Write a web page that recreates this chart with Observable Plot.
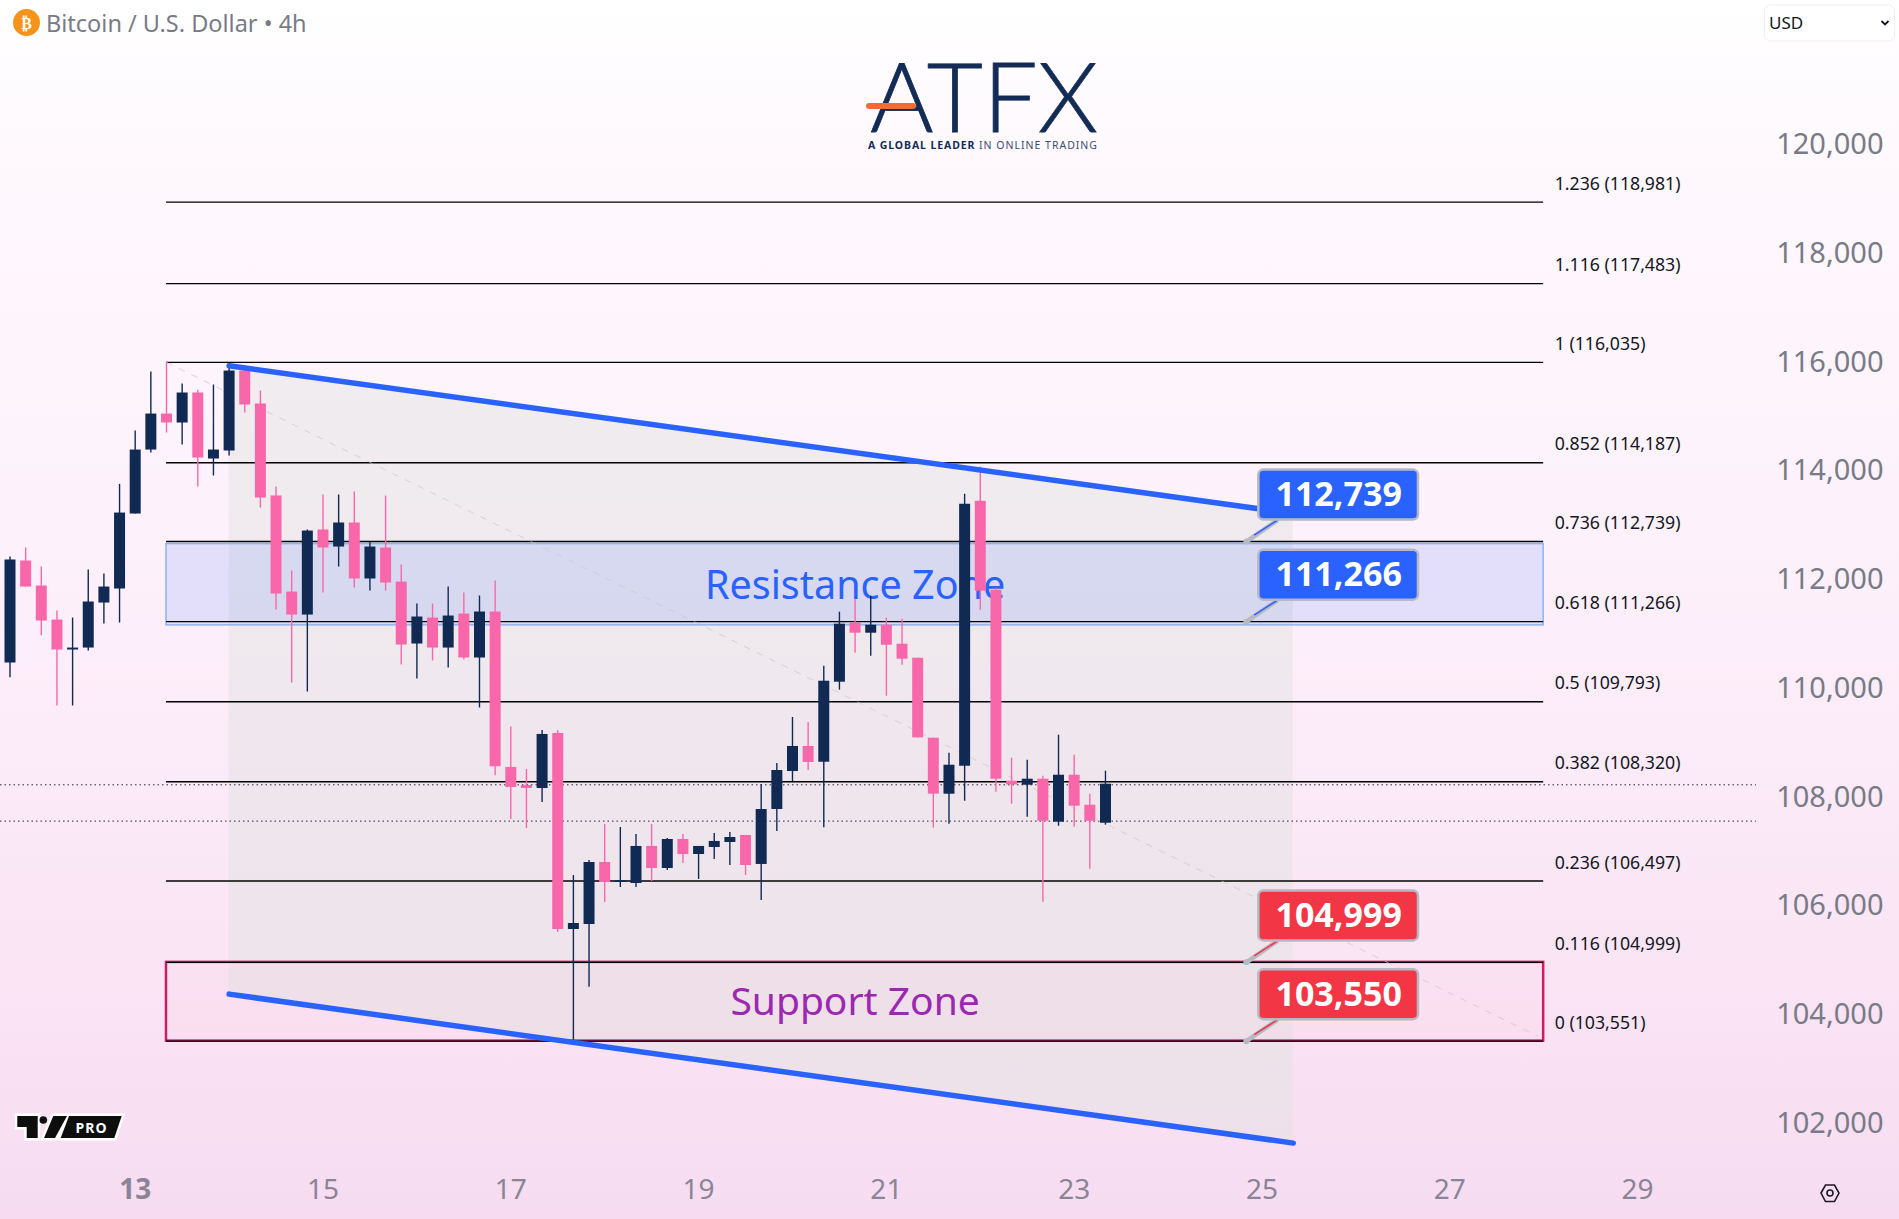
<!DOCTYPE html>
<html>
<head>
<meta charset="utf-8">
<script src="https://cdn.jsdelivr.net/npm/d3@7"></script>
<script src="https://cdn.jsdelivr.net/npm/@observablehq/plot@0.6"></script>
<style>
html,body{margin:0;padding:0;background:#fff;}
svg{display:block;}
</style>
</head>
<body>
<div id="chart"></div>
<script>
// 4h candles, one bar per index
const opens = [110505,112381,111921,111295,110744,110780,111608,111866,113245,114422,115084,114919,115471,114257,114404,115875,115268,113576,111810,111387,112951,112638,113080,112050,112620,111994,110854,111332,110780,111406,110597,111443,108584,108253,108197,109209,105604,105696,106836,106468,106450,107131,106726,107259,106983,107112,107204,107333,106800,107811,108510,108970,108680,110152,111237,111053,111200,110851,110593,109122,108092,108607,113481,111844,108331,108257,108368,107577,108441,107890,107558];
const closes = [112399,111902,111277,110744,110780,111627,111902,113263,114422,115084,114919,115471,114275,114422,115875,115250,113539,111774,111387,112932,112620,113080,112050,112638,111976,110836,111351,110780,111369,110597,111443,108596,108216,108197,109191,105604,105714,106836,106468,106499,107131,106726,107259,106983,107131,107223,107296,106781,107811,108528,108970,108676,110170,111219,111053,111200,110832,110575,109128,108092,108625,113426,111826,108368,108263,108368,107595,108441,107871,107595,108276];
const highs = [112454,112620,112270,111461,111332,112215,112142,113791,114772,115857,116035,115636,115520,115618,115967,115967,115507,113742,112197,112951,113594,113594,113650,112724,113576,112307,111590,111590,111902,111792,111737,112013,109326,108547,109264,109264,106597,106873,107535,107480,107351,107535,107278,107351,107131,107370,107388,107333,108271,108657,109503,109411,110446,111439,111678,111734,111329,111311,110593,109122,108846,113610,114112,111881,108754,108717,108423,109177,108809,108092,108515];
const lows = [110235,111902,111007,109714,109714,110725,111222,111240,113245,114367,114735,114514,113742,113944,114312,115103,113355,111479,110137,109971,111792,112270,111884,111829,111829,110468,110210,110541,110413,110560,109677,108430,107627,107462,107940,105549,103551,104543,106101,106376,106376,106487,106689,106818,106524,106892,106781,106597,106137,107407,108326,108528,107473,110005,110685,110630,109894,110464,109128,107466,107540,107963,111476,108129,107908,107669,106105,107503,107485,106712,107522];

// Fibonacci levels
const fibRatios = ["1.236","1.116","1","0.852","0.736","0.618","0.5","0.382","0.236","0.116","0"];
const fibPrices = [118981,117483,116035,114187,112739,111266,109793,108320,106497,104999,103551];

// Channel, zones, callouts
const channelBars = [14,82];
const channelUpper = [115973,113253];
const channelLower = [104415,101675];
const zoneBars = [10,98];
const resistanceZone = [111197,112692];
const supportZone = [103551,104999];
const calloutValues = [112739,111266,104999,103550];
const calloutColors = ["#2962ff","#2962ff","#f23645","#f23645"];
const lastPrices = [108265,107597];
const diagBars = [10,97.6];
const diagPrices = [116035,103643];

// Axes
const yTicks = [102000,104000,106000,108000,110000,112000,114000,116000,118000,120000];
const xTickBars = [20,32,44,56,68,80,92,104];
const xTickLabels = ["15","17","19","21","23","25","27","29"];
const xBoldBars = [8];
const xBoldLabels = ["13"];

const navy = "#102a54", pink = "#f967ab", blue = "#2962ff";
const sans = "'Noto Sans', sans-serif";

const bars = opens.map((o,i)=>({i,o,c:closes[i],h:highs[i],l:lows[i],col:closes[i]>=o?navy:pink}));
const fib = fibRatios.map((r,i)=>({r,p:fibPrices[i]}));
const channel = channelBars.map((b,i)=>({b,u:channelUpper[i],l:channelLower[i]}));
const callouts = calloutValues.map((v,i)=>({v,col:calloutColors[i]}));

function chrome(){
  const g = d3.create("svg:g").attr("text-anchor","start");
  // ATFX logo
  g.append("text").text("ATFX").attr("x",984).attr("y",94.5).attr("text-anchor","middle")
    .attr("dominant-baseline","central").attr("font-family","Lato, sans-serif").attr("font-size",97).attr("font-weight",300)
    .attr("fill","#132c56").attr("stroke","#132c56").attr("stroke-width",0.8);
  g.append("line").attr("x1",869).attr("x2",913).attr("y1",106).attr("y2",106)
    .attr("stroke","#f26b30").attr("stroke-width",6).attr("stroke-linecap","round");
  g.append("text").text("A GLOBAL LEADER").attr("x",868).attr("y",149).attr("font-family",sans)
    .attr("font-size",10.5).attr("font-weight",700).attr("letter-spacing",0.9).attr("fill","#132c56");
  g.append("text").text("IN ONLINE TRADING").attr("x",979).attr("y",149).attr("font-family",sans)
    .attr("font-size",10.5).attr("letter-spacing",1.0).attr("fill","#3d4f6f");
  // header
  g.append("circle").attr("cx",26.5).attr("cy",22.5).attr("r",13.5).attr("fill","#f7931a");
  g.append("text").text("₿").attr("x",26.5).attr("y",23).attr("text-anchor","middle")
    .attr("dominant-baseline","central").attr("font-family","DejaVu Sans").attr("font-weight",700)
    .attr("font-size",16).attr("fill","#fff");
  g.append("text").text("Bitcoin / U.S. Dollar • 4h").attr("x",46).attr("y",22.5)
    .attr("dominant-baseline","central").attr("font-family",sans).attr("font-size",23.5).attr("fill","#787b86");
  // currency select
  g.append("rect").attr("x",1764.5).attr("y",5).attr("width",130).attr("height",36).attr("rx",6)
    .attr("fill","#fff").attr("stroke","#eeeeee");
  g.append("text").text("USD").attr("x",1769).attr("y",22.5).attr("dominant-baseline","central")
    .attr("font-family",sans).attr("font-size",17).attr("fill","#131722");
  g.append("path").attr("d","M1881.5 21 L1885 24.5 L1888.5 21").attr("fill","none").attr("stroke","#131722").attr("stroke-width",1.8);
  // TradingView PRO badge
  const shapes = ["M17.3 1116H37.7V1138H26.7V1127H17.3Z","M53.3 1116H67L55 1138H44Z","M69 1116H121.7L114.3 1138H60.7Z"];
  shapes.forEach(d=>g.append("path").attr("d",d).attr("fill","#fff").attr("stroke","#fff").attr("stroke-width",5));
  shapes.forEach(d=>g.append("path").attr("d",d).attr("fill","#0e0e0e"));
  g.append("circle").attr("cx",43.3).attr("cy",1120).attr("r",3.8).attr("fill","#0e0e0e");
  g.append("text").text("PRO").attr("x",91.5).attr("y",1127.5).attr("text-anchor","middle").attr("dominant-baseline","central")
    .attr("font-family",sans).attr("font-weight",700).attr("font-size",14).attr("letter-spacing",1).attr("fill","#fff");
  // settings glyph
  g.append("path").attr("d","M1821 1193L1825.5 1185H1834.5L1839 1193L1834.5 1201.5H1825.5Z").attr("fill","none")
    .attr("stroke","#1e1a2a").attr("stroke-width",1.6);
  g.append("circle").attr("cx",1830).attr("cy",1193).attr("r",3).attr("fill","none").attr("stroke","#1e1a2a").attr("stroke-width",1.6);
  return g.node();
}

const calloutOffset = 855, calloutHalf = 460;

const plot = Plot.plot({
  width: 1899, height: 1219,
  marginLeft: 0, marginRight: 143, marginTop: 0, marginBottom: 59,
  x: {type:"linear", domain:[-0.607,111.6], axis:null},
  y: {type:"linear", domain:[101355,122690], axis:null},
  style: {background:"linear-gradient(180deg,#ffffff 0%,#fef8fd 14%,#fdf1fb 45%,#fae5f5 78%,#f7dcf1 100%)", fontFamily:sans},
  marks: [
    Plot.areaY(channel,{x:"b",y1:"u",y2:"l",fill:"#dfe3df",fillOpacity:0.45}),
    Plot.rect([0],{x1:zoneBars[0],x2:zoneBars[1],y1:resistanceZone[0],y2:resistanceZone[1],fill:"#2962ff",fillOpacity:0.12,stroke:"#8fb3ee",strokeWidth:1.5}),
    Plot.rect([0],{x1:zoneBars[0],x2:zoneBars[1],y1:supportZone[0],y2:supportZone[1],fill:"#e91e63",fillOpacity:0.02,stroke:"#c81e66",strokeWidth:2.5}),
    Plot.ruleY(fib,{y:"p",x1:zoneBars[0],x2:zoneBars[1],stroke:"#000",strokeWidth:1.4}),
    Plot.text(fib,{x:zoneBars[1],y:"p",text:d=>`${d.r} (${d3.format(",")(d.p)})`,textAnchor:"start",dx:11,dy:-18,fontSize:17.7,fill:"#131722",fontFamily:sans}),
    Plot.ruleY(lastPrices,{y:d=>d,stroke:"#2a2a3a",strokeWidth:1,strokeDasharray:"1.5,3"}),
    Plot.line(diagBars.map((b,i)=>({b,p:diagPrices[i]})),{x:"b",y:"p",stroke:"#c8c8c8",strokeOpacity:0.7,strokeDasharray:"6,8",strokeWidth:1}),
    Plot.text(["Resistance Zone"],{x:54,y:111915,text:d=>d,fontSize:39.5,fill:blue,fontFamily:sans}),
    Plot.text(["Support Zone"],{x:54,y:104255,text:d=>d,fontSize:39,fill:"#9c27b0",fontFamily:sans}),
    // candles
    Plot.ruleX(bars,{x:"i",y1:"l",y2:"h",stroke:"col",strokeWidth:1.4}),
    Plot.ruleX(bars,{x:"i",y1:"o",y2:"c",stroke:"col",strokeWidth:11}),
    // channel borders
    Plot.line(channel,{x:"b",y:"u",stroke:blue,strokeWidth:5.5,strokeLinecap:"round"}),
    Plot.line(channel,{x:"b",y:"l",stroke:blue,strokeWidth:5.5,strokeLinecap:"round"}),
    // callouts
    Plot.link(callouts,{x1:79,y1:"v",x2:81,y2:d=>d.v+calloutOffset-calloutHalf,stroke:"#b6b9c4",strokeWidth:4.5}),
    Plot.link(callouts,{x1:79.5,y1:d=>d.v+120,x2:81,y2:d=>d.v+calloutOffset-calloutHalf,stroke:"col",strokeWidth:1.5}),
    Plot.dot(callouts,{x:79,y:"v",r:3,fill:"#b6b9c4"}),
    Plot.rect(callouts,{x1:79.8,x2:90,y1:d=>d.v+calloutOffset-calloutHalf,y2:d=>d.v+calloutOffset+calloutHalf,fill:"col",stroke:"#b6b9c4",strokeWidth:2.5,rx:5}),
    Plot.text(callouts,{x:84.9,y:d=>d.v+calloutOffset,text:d=>d3.format(",")(d.v),fill:"#fff",fontSize:34,fontWeight:700,fontFamily:sans}),
    // axes
    Plot.axisY({anchor:"right",ticks:yTicks,tickFormat:d3.format(","),tickSize:0,tickPadding:127,textAnchor:"end",dy:-1.8,fontSize:29,fill:"#787b86",label:null,fontFamily:sans}),
    Plot.axisX({anchor:"bottom",ticks:xTickBars,tickFormat:d=>xTickLabels[xTickBars.indexOf(d)],tickSize:0,tickPadding:19,fontSize:28,fill:"#8a8596",label:null,fontFamily:sans}),
    Plot.axisX({anchor:"bottom",ticks:xBoldBars,tickFormat:d=>xBoldLabels[xBoldBars.indexOf(d)],tickSize:0,tickPadding:19,fontSize:28,fontWeight:700,fill:"#8a8596",label:null,fontFamily:sans}),
    chrome
  ]
});
document.getElementById("chart").appendChild(plot);
</script>
</body>
</html>
